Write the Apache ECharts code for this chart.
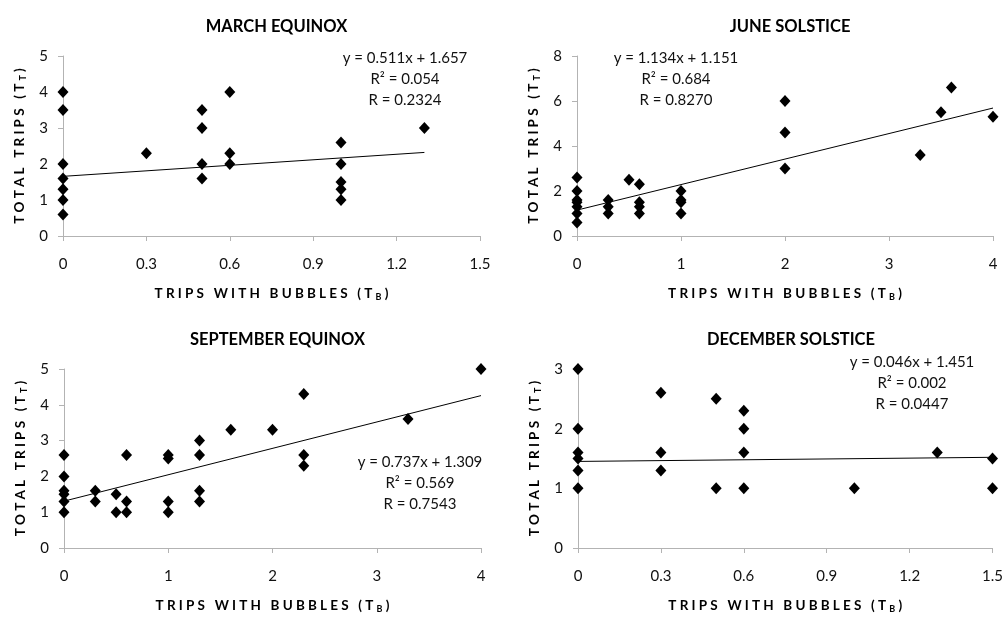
<!DOCTYPE html>
<html>
<head>
<meta charset="utf-8">
<script src="https://cdn.jsdelivr.net/npm/echarts@6/dist/echarts.min.js"></script>
<style>
    html, body { margin: 0; padding: 0; background: #fff; }
    #main { width: 1006px; height: 617px; }
</style>
</head>
<body>
<div id="main"></div>
<script>
// panel titles
var panelTitles = ['MARCH EQUINOX', 'JUNE SOLSTICE', 'SEPTEMBER EQUINOX', 'DECEMBER SOLSTICE'];
var xAxisTitle = ['TRIPS WITH BUBBLES (T', 'B', ')'];
var yAxisTitle = ['TOTAL TRIPS (T', 'T', ')'];

// March equinox
var marchX = [0, 0, 0, 0, 0, 0, 0, 0.3, 0.5, 0.5, 0.5, 0.5, 0.6, 0.6, 0.6, 1, 1, 1, 1, 1, 1.3];
var marchY = [4, 3.5, 2, 1.6, 1.3, 1, 0.6, 2.3, 3.5, 3, 2, 1.6, 4, 2.3, 2, 2.6, 2, 1.5, 1.3, 1, 3];

// June solstice
var juneX = [0, 0, 0, 0, 0, 0, 0, 0.3, 0.3, 0.3, 0.5, 0.6, 0.6, 0.6, 0.6, 1, 1, 1, 1, 2, 2, 2, 3.3, 3.5, 3.6, 4];
var juneY = [2.6, 2, 1.6, 1.5, 1.3, 1, 0.6, 1.6, 1.3, 1, 2.5, 2.3, 1.5, 1.3, 1, 2, 1.6, 1.5, 1, 6, 4.6, 3, 3.6, 5.5, 6.6, 5.3];

// September equinox
var septX = [0, 0, 0, 0, 0, 0, 0.3, 0.3, 0.5, 0.5, 0.6, 0.6, 0.6, 1, 1, 1, 1, 1.3, 1.3, 1.3, 1.3, 1.6, 2, 2.3, 2.3, 2.3, 3.3, 4];
var septY = [2.6, 2, 1.6, 1.5, 1.3, 1, 1.6, 1.3, 1.5, 1, 2.6, 1.3, 1, 2.6, 2.5, 1.3, 1, 3, 2.6, 1.6, 1.3, 3.3, 3.3, 4.3, 2.6, 2.3, 3.6, 5];

// December solstice
var decX = [0, 0, 0, 0, 0, 0, 0.3, 0.3, 0.3, 0.5, 0.5, 0.6, 0.6, 0.6, 0.6, 1, 1.3, 1.5, 1.5];
var decY = [3, 2, 1.6, 1.5, 1.3, 1, 2.6, 1.6, 1.3, 2.5, 1, 2.3, 2, 1.6, 1, 1, 1.6, 1.5, 1];

// linear trend lines (y = a x + b) as printed on the chart
var trendSlope = [0.511, 1.134, 0.737, 0.046];
var trendIntercept = [1.657, 1.151, 1.309, 1.451];
var trendEndX = [1.3, 4, 4, 1.5];
var trendR2 = ['0.054', '0.684', '0.569', '0.002'];
var trendR = ['0.2324', '0.8270', '0.7543', '0.0447'];

// axis ranges
var xMax = [1.5, 4, 4, 1.5];
var xStep = [0.3, 1, 1, 0.3];
var yMax = [5, 8, 5, 3];
var yStep = [1, 2, 1, 1];

var allX = [marchX, juneX, septX, decX];
var allY = [marchY, juneY, septY, decY];

var FONT = 'Lato, "Open Sans", sans-serif';

// layout of the four plot areas
var grids = [
    { left: 63, top: 56, width: 417, height: 180 },
    { left: 577, top: 56, width: 416, height: 180 },
    { left: 64, top: 369, width: 417, height: 179 },
    { left: 578, top: 369, width: 416, height: 179 }
];
var titleY = [13, 13, 326, 326];
var labelPos = [[405, 48], [676, 48], [420, 452], [912, 352]];

// wide-tracked axis title: every letter is its own rich token with side padding
var spaced = function (parts) {
    var out = '';
    var i;
    for (i = 0; i < parts[0].length; i++) {
        out += parts[0][i] === ' ' ? '{w| }' : '{n|' + parts[0][i] + '}';
    }
    out += '{s|' + parts[1] + '}{n|' + parts[2] + '}';
    return out;
};
var nameRich = {
    n: { fontFamily: FONT, fontSize: 13.5, fontWeight: 'bold', color: '#000', padding: [0, 1.6, 0, 1.6] },
    w: { fontFamily: FONT, fontSize: 13.5, fontWeight: 'bold', color: '#000', padding: [0, 1.6, 0, 1.6] },
    s: { fontFamily: FONT, fontSize: 9, fontWeight: 'bold', color: '#000', padding: [7, 1.6, 0, 1.6] }
};

var option = {
    backgroundColor: '#fff',
    animation: false,
    title: [],
    grid: [],
    xAxis: [],
    yAxis: [],
    series: [],
    graphic: []
};

var axisLine = { lineStyle: { color: '#b3b3b3', width: 1 } };
var axisTick = { show: true, inside: false, length: 5, lineStyle: { color: '#b3b3b3' } };

for (var i = 0; i < 4; i++) {
    var g = grids[i];
    option.grid.push({ left: g.left, top: g.top, width: g.width, height: g.height, containLabel: false });

    option.title.push({
        text: panelTitles[i],
        left: g.left + g.width / 2,
        top: titleY[i],
        textAlign: 'center',
        textStyle: { fontFamily: FONT, fontSize: 16.5, fontWeight: 'bold', color: '#000' }
    });

    option.xAxis.push({
        type: 'value', gridIndex: i, min: 0, max: xMax[i], interval: xStep[i],
        axisLine: axisLine, axisTick: axisTick, splitLine: { show: false },
        axisLabel: {
            fontFamily: FONT, fontSize: 15, color: '#111', margin: 21,
            formatter: function (v) { return String(+v.toFixed(1)); }
        },
        name: spaced(xAxisTitle),
        nameLocation: 'middle', nameGap: 50,
        nameTextStyle: { rich: nameRich }
    });

    option.yAxis.push({
        type: 'value', gridIndex: i, min: 0, max: yMax[i], interval: yStep[i],
        axisLine: { show: true, lineStyle: axisLine.lineStyle }, axisTick: axisTick, splitLine: { show: false },
        axisLabel: { fontFamily: FONT, fontSize: 15, color: '#111', margin: 15 },
        name: spaced(yAxisTitle),
        nameLocation: 'middle', nameGap: 35, nameRotate: 90,
        nameTextStyle: { rich: nameRich }
    });

    var pts = [];
    for (var k = 0; k < allX[i].length; k++) {
        pts.push([allX[i][k], allY[i][k]]);
    }
    option.series.push({
        type: 'scatter', xAxisIndex: i, yAxisIndex: i,
        symbol: 'diamond', symbolSize: [11, 12],
        itemStyle: { color: '#000', opacity: 1 },
        data: pts
    });

    option.series.push({
        type: 'line', xAxisIndex: i, yAxisIndex: i,
        showSymbol: false, silent: true,
        lineStyle: { color: '#000', width: 1 },
        data: [
            [0, trendIntercept[i]],
            [trendEndX[i], trendSlope[i] * trendEndX[i] + trendIntercept[i]]
        ],
        z: 1
    });

    // regression equation text
    var lp = labelPos[i];
    option.graphic.push({
        type: 'text',
        x: lp[0], y: lp[1],
        style: {
            text: 'y = ' + trendSlope[i] + 'x + ' + trendIntercept[i] + '\nR² = ' + trendR2[i] + '\nR = ' + trendR[i],
            align: 'center', verticalAlign: 'top',
            fontFamily: FONT, fontSize: 15, lineHeight: 21, fill: '#111'
        }
    });
}

var chart = echarts.init(document.getElementById('main'));
chart.setOption(option);
</script>
</body>
</html>
